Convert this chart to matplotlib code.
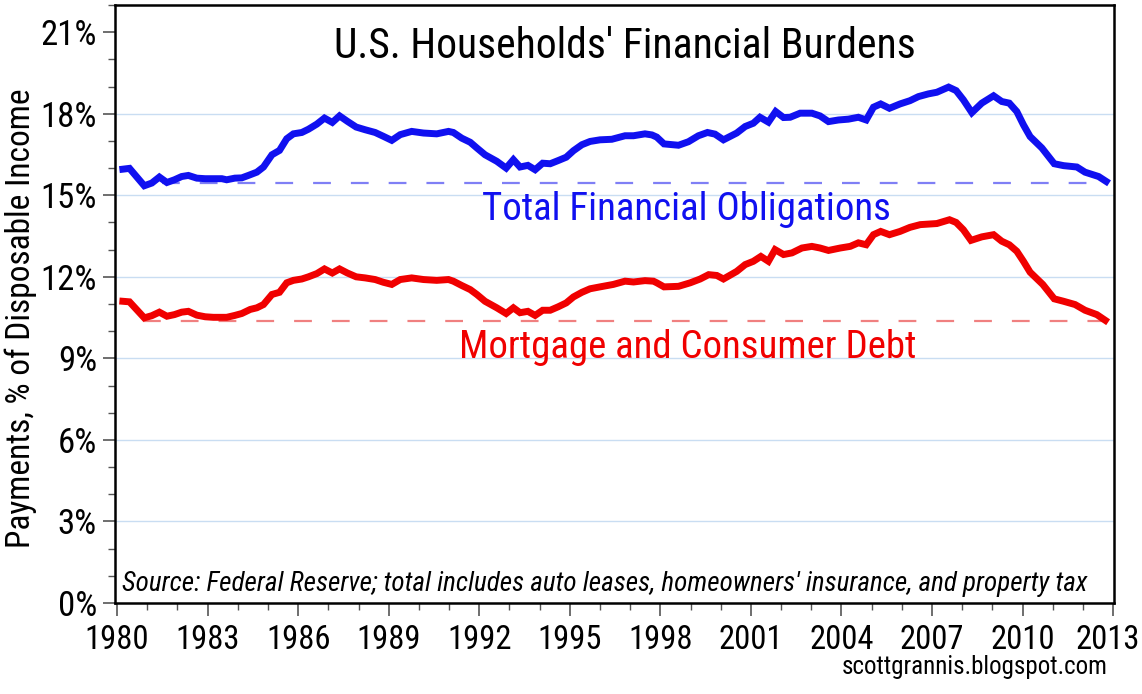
import matplotlib
matplotlib.use("Agg")
import matplotlib.pyplot as plt
from matplotlib.ticker import MultipleLocator, FuncFormatter
from matplotlib.transforms import ScaledTranslation

plt.rcParams['font.family'] = ['Roboto Condensed', 'DejaVu Sans']

# ---- data ----
blue_year = [1980.19, 1980.41, 1980.90, 1981.15, 1981.40, 1981.65, 1981.90, 1982.14, 1982.36, 1982.64,
             1982.92, 1983.19, 1983.47, 1983.63, 1983.90, 1984.13, 1984.35, 1984.63, 1984.85, 1985.13,
             1985.38, 1985.62, 1985.84, 1986.12, 1986.34, 1986.62, 1986.87, 1987.13, 1987.37, 1987.63,
             1987.92, 1988.22, 1988.55, 1988.82, 1989.10, 1989.38, 1989.76, 1990.15, 1990.59, 1990.98,
             1991.14, 1991.42, 1991.70, 1991.92, 1992.19, 1992.58, 1992.89, 1993.13, 1993.35, 1993.61,
             1993.85, 1994.10, 1994.35, 1994.62, 1994.88, 1995.12, 1995.40, 1995.67, 1996.00, 1996.39,
             1996.83, 1997.11, 1997.49, 1997.72, 1997.88, 1998.12, 1998.60, 1998.93, 1999.26, 1999.56,
             1999.81, 2000.09, 2000.53, 2000.81, 2001.08, 2001.30, 2001.58, 2001.82, 2002.08, 2002.30,
             2002.63, 2003.02, 2003.29, 2003.57, 2003.90, 2004.23, 2004.56, 2004.82, 2005.06, 2005.30,
             2005.59, 2005.94, 2006.27, 2006.55, 2006.88, 2007.16, 2007.55, 2007.80, 2008.04, 2008.32,
             2008.65, 2009.04, 2009.31, 2009.56, 2009.81, 2010.03, 2010.25, 2010.64, 2011.05, 2011.36,
             2011.80, 2012.07, 2012.52, 2012.77]
blue_pct = [15.96, 15.99, 15.35, 15.45, 15.67, 15.47, 15.57, 15.69, 15.73, 15.63,
            15.61, 15.61, 15.61, 15.57, 15.63, 15.64, 15.73, 15.85, 16.04, 16.49,
            16.65, 17.08, 17.26, 17.31, 17.43, 17.62, 17.84, 17.68, 17.92, 17.72,
            17.51, 17.41, 17.31, 17.17, 17.02, 17.23, 17.35, 17.29, 17.26, 17.35,
            17.31, 17.10, 16.95, 16.74, 16.49, 16.25, 16.00, 16.31, 16.04, 16.10,
            15.94, 16.18, 16.16, 16.28, 16.40, 16.64, 16.86, 16.98, 17.04, 17.06,
            17.19, 17.19, 17.26, 17.22, 17.14, 16.89, 16.84, 16.97, 17.19, 17.31,
            17.25, 17.04, 17.29, 17.53, 17.65, 17.87, 17.69, 18.08, 17.86, 17.87,
            18.02, 18.02, 17.92, 17.71, 17.77, 17.80, 17.87, 17.77, 18.24, 18.36,
            18.20, 18.36, 18.48, 18.63, 18.73, 18.79, 18.98, 18.85, 18.51, 18.04,
            18.39, 18.66, 18.45, 18.39, 18.08, 17.59, 17.16, 16.74, 16.16, 16.09,
            16.04, 15.85, 15.69, 15.51]

red_year = [1980.19, 1980.41, 1980.90, 1981.15, 1981.40, 1981.65, 1981.90, 1982.14, 1982.36, 1982.64,
            1982.92, 1983.19, 1983.63, 1983.90, 1984.13, 1984.41, 1984.63, 1984.85, 1985.13, 1985.38,
            1985.62, 1985.84, 1986.12, 1986.34, 1986.62, 1986.87, 1987.13, 1987.37, 1987.63, 1987.92,
            1988.22, 1988.55, 1988.82, 1989.10, 1989.38, 1989.76, 1990.15, 1990.59, 1990.98, 1991.14,
            1991.42, 1991.70, 1991.92, 1992.19, 1992.58, 1992.89, 1993.13, 1993.35, 1993.61, 1993.85,
            1994.10, 1994.35, 1994.62, 1994.88, 1995.12, 1995.40, 1995.67, 1996.00, 1996.44, 1996.83,
            1997.11, 1997.49, 1997.77, 1997.88, 1998.12, 1998.60, 1998.99, 1999.32, 1999.60, 1999.87,
            2000.09, 2000.53, 2000.81, 2001.08, 2001.33, 2001.58, 2001.80, 2002.08, 2002.36, 2002.69,
            2003.02, 2003.29, 2003.57, 2003.96, 2004.29, 2004.56, 2004.82, 2005.06, 2005.30, 2005.59,
            2005.94, 2006.27, 2006.61, 2007.16, 2007.58, 2007.80, 2008.04, 2008.29, 2008.65, 2009.04,
            2009.31, 2009.56, 2009.81, 2010.03, 2010.25, 2010.67, 2011.05, 2011.36, 2011.74, 2012.07,
            2012.46, 2012.74]
red_pct = [11.10, 11.08, 10.49, 10.57, 10.70, 10.55, 10.61, 10.70, 10.73, 10.59,
           10.53, 10.51, 10.51, 10.58, 10.65, 10.80, 10.86, 10.98, 11.35, 11.43,
           11.78, 11.87, 11.92, 12.00, 12.12, 12.29, 12.14, 12.29, 12.14, 12.00,
           11.96, 11.90, 11.80, 11.72, 11.90, 11.96, 11.90, 11.87, 11.90, 11.84,
           11.68, 11.53, 11.35, 11.10, 10.86, 10.65, 10.86, 10.68, 10.73, 10.58,
           10.77, 10.77, 10.90, 11.04, 11.26, 11.43, 11.56, 11.63, 11.72, 11.84,
           11.81, 11.86, 11.84, 11.78, 11.63, 11.65, 11.78, 11.92, 12.08, 12.05,
           11.92, 12.20, 12.45, 12.57, 12.75, 12.57, 13.00, 12.82, 12.88, 13.06,
           13.12, 13.06, 12.97, 13.06, 13.12, 13.25, 13.18, 13.55, 13.67, 13.55,
           13.67, 13.82, 13.92, 13.96, 14.10, 14.00, 13.73, 13.34, 13.47, 13.55,
           13.31, 13.18, 12.94, 12.57, 12.17, 11.72, 11.19, 11.10, 10.98, 10.77,
           10.61, 10.40]

blue_ref = 15.46   # dashed reference level, total obligations
red_ref = 10.39    # dashed reference level, mortgage + consumer debt
blue_ref_span = [1981.5, 2012.8]
red_ref_span = [1980.85, 2013.03]

x_ticks = list(range(1980, 2014, 3))
y_ticks = [0, 3, 6, 9, 12, 15, 18, 21]

# ---- figure ----
fig = plt.figure(figsize=(11.42, 6.94), dpi=100)
ax = fig.add_axes([115/1142, 1 - 603/694, (1114-115)/1142, (603-5)/694])

for yv in y_ticks[1:-1]:
    ax.axhline(yv, color='#c9ddf2', lw=1.0, zorder=0)

ax.plot(blue_ref_span, [blue_ref, blue_ref], color='#7f7ff5', lw=1.6, dashes=(8, 9), zorder=1)
ax.plot(red_ref_span, [red_ref, red_ref], color='#f08080', lw=1.6, dashes=(8, 9), zorder=1)

ax.plot(blue_year, blue_pct, color='#1010f0', lw=5, solid_joinstyle='miter', zorder=3)
ax.plot(red_year, red_pct, color='#f00000', lw=5, solid_joinstyle='miter', zorder=3)

ax.set_xlim(1979.93, 2013.03)
ax.set_ylim(0, 22)
ax.set_xticks(x_ticks)
ax.set_yticks(y_ticks)
ax.xaxis.set_minor_locator(MultipleLocator(1))
ax.yaxis.set_minor_locator(MultipleLocator(1))
ax.yaxis.set_major_formatter(FuncFormatter(lambda v, p: f"{v:.0f}%"))
ax.tick_params(axis='both', which='major', length=9, width=1.2, direction='out')
ax.tick_params(axis='both', which='minor', length=5, width=1.0, direction='out')
ax.tick_params(axis='both', which='both', color='#555555')
ax.tick_params(axis='y', pad=4, labelsize=25)
ax.tick_params(axis='x', pad=6, labelsize=23.5)
for s in ax.spines.values():
    s.set_linewidth(1.8)
    s.set_color('black')

# keep the last year label inside the canvas
last_lbl = ax.get_xticklabels()[-1]
last_lbl.set_transform(last_lbl.get_transform() + ScaledTranslation(-5/100, 0, fig.dpi_scale_trans))

ax.set_ylabel("Payments, % of Disposable Income", fontsize=24)
ax.yaxis.set_label_coords((37 - 115) / 999, (603 - 318) / 598)

fig.text(625/1142, 1 - 46/694, "U.S. Households' Financial Burdens", fontsize=30,
         ha='center', va='center', color='black')
fig.text(686/1142, 1 - 210/694, "Total Financial Obligations", fontsize=28,
         ha='center', va='center', color='#1010f0')
fig.text(688/1142, 1 - 347/694, "Mortgage and Consumer Debt", fontsize=28,
         ha='center', va='center', color='#f00000')
fig.text(122/1142, 1 - 584/694,
         "Source: Federal Reserve; total includes auto leases, homeowners' insurance, and property tax",
         fontsize=19.5, style='italic', ha='left', va='center', color='black')
fig.text(1108/1142, 1 - 667/694, "scottgrannis.blogspot.com", fontsize=18,
         ha='right', va='center', color='black')

fig.savefig("out.png", dpi=100)
